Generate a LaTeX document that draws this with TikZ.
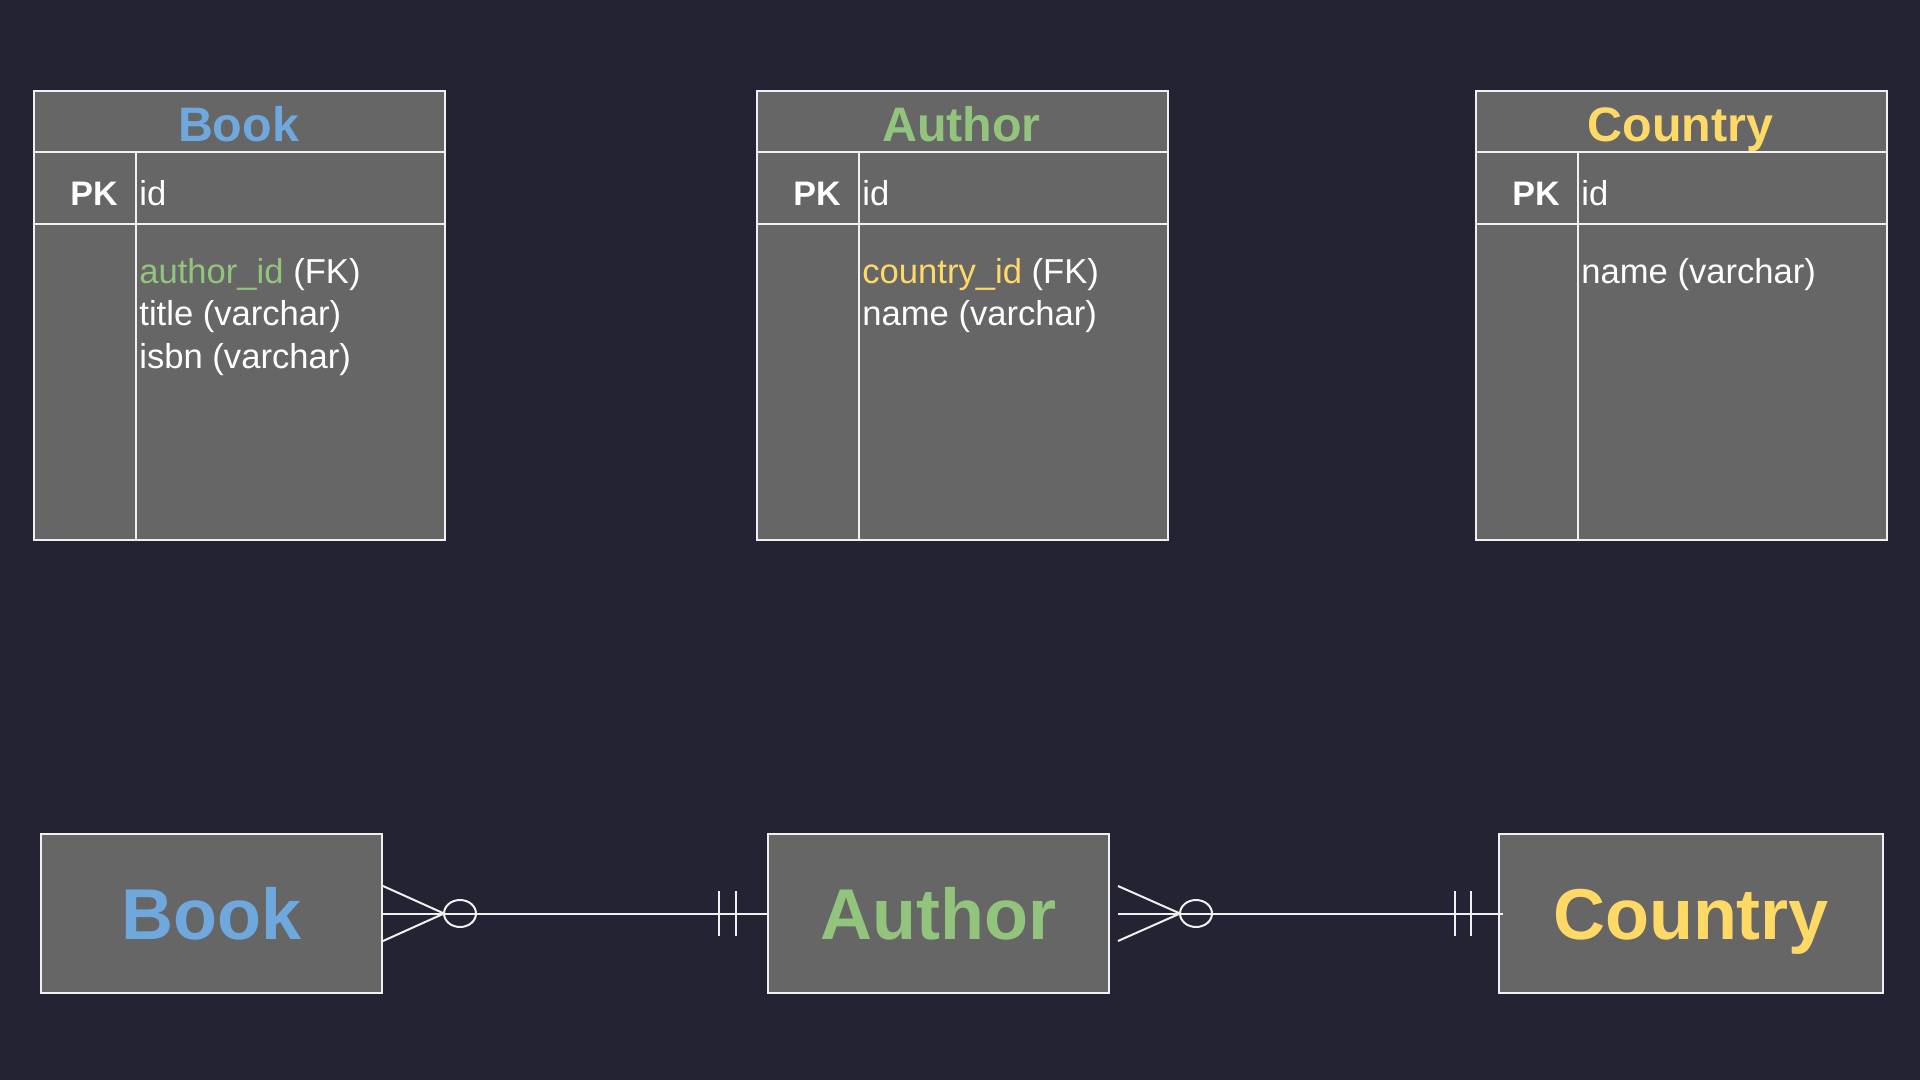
\documentclass[tikz,border=0pt]{standalone}
\usepackage{fontspec}
\setmainfont{Liberation Sans}
\definecolor{bg}{HTML}{232333}
\definecolor{boxfill}{HTML}{666666}
\definecolor{ln}{HTML}{F0F0F0}
\definecolor{cblue}{HTML}{6FA8DC}
\definecolor{cgreen}{HTML}{93C47D}
\definecolor{cyellow}{HTML}{FFD966}
\tikzset{
  tbl/.style={draw=ln, fill=boxfill, line width=1pt, minimum width=205.5pt, minimum height=224.5pt, inner sep=0pt, anchor=north west},
  hdr/.style={font=\fontsize{24.2}{28}\selectfont\bfseries, inner sep=0pt, anchor=base},
  pkl/.style={font=\fontsize{17}{20}\selectfont\bfseries, text=white, inner sep=0pt, anchor=base east},
  fld/.style={font=\fontsize{17.3}{20}\selectfont, text=white, inner sep=0pt, anchor=base west},
  ent/.style={draw=ln, fill=boxfill, line width=1pt, minimum height=79.5pt, inner sep=0pt,
              font=\fontsize{36}{40}\selectfont\bfseries, text height=25.8pt, text depth=0pt},
  rel/.style={draw=ln, line width=1pt},
}
\newcommand\ertable[4]{%
  \node[tbl] (#1) at (#2,90) {};
  \draw[rel] (#2,152) -- ++(411,0);
  \draw[rel] (#2,224) -- ++(411,0);
  \draw[rel] (#2+103,152) -- (#2+103,539);
  \node[hdr, text=#3] (#1-title) at (#2+205.5,142) {#4};
  \node[pkl] (#1-pk) at (#2+85,206) {PK};
  \node[fld] (#1-id) at (#2+106,206) {id};
}
\begin{document}
\begin{tikzpicture}[x=0.5pt, y=-0.5pt]
\fill[bg] (0,0) rectangle (1920,1080);
\useasboundingbox (0,0) rectangle (1920,1080);

% ---- tables ----
\ertable{bookT}{33}{cblue}{Book}
\node[fld] (bookT-f1) at (139,284) {\textcolor{cgreen}{author\_id} (FK)};
\node[fld] (bookT-f2) at (139,326) {title (varchar)};
\node[fld] (bookT-f3) at (139,368) {isbn (varchar)};

\ertable{authorT}{756}{cgreen}{Author}
\node[fld] (authorT-f1) at (862,284) {\textcolor{cyellow}{country\_id} (FK)};
\node[fld] (authorT-f2) at (862,326) {name (varchar)};

\ertable{countryT}{1475}{cyellow}{Country}
\node[fld] (countryT-f1) at (1581,284) {name (varchar)};

% ---- entities ----
\node[ent, minimum width=170.5pt, text=cblue] (bookE) at (211.5,913.5) {Book};
\node[ent, minimum width=170.5pt, text=cgreen] (authorE) at (938.5,913.5) {Author};
\node[ent, minimum width=192pt, text=cyellow] (countryE) at (1691,913.5) {Country};

% ---- Book >o---|| Author ----
\draw[rel] (bookE.east) -- (authorE.west);
\draw[rel] ([yshift=13.75pt]bookE.east) -- ++(61,27.5) -- ++(-61,27.5);
\draw[rel] ([xshift=38.5pt]bookE.east) ellipse [x radius=8pt, y radius=6.75pt];
\draw[rel] ([xshift=-24pt,yshift=11.25pt]authorE.west) -- ++(0,45);
\draw[rel] ([xshift=-15.5pt,yshift=11.25pt]authorE.west) -- ++(0,45);

% ---- Author >o---|| Country ----
\coordinate (a2) at ([xshift=4pt]authorE.east);
\coordinate (c2) at ([xshift=2.5pt]countryE.west);
\draw[rel] (a2) -- (c2);
\draw[rel] ([yshift=13.75pt]a2) -- ++(62,27.5) -- ++(-62,27.5);
\draw[rel] ([xshift=43pt]authorE.east) ellipse [x radius=8pt, y radius=6.75pt];
\draw[rel] ([xshift=-21.5pt,yshift=11.25pt]countryE.west) -- ++(0,45);
\draw[rel] ([xshift=-13.5pt,yshift=11.25pt]countryE.west) -- ++(0,45);
\end{tikzpicture}
\end{document}
